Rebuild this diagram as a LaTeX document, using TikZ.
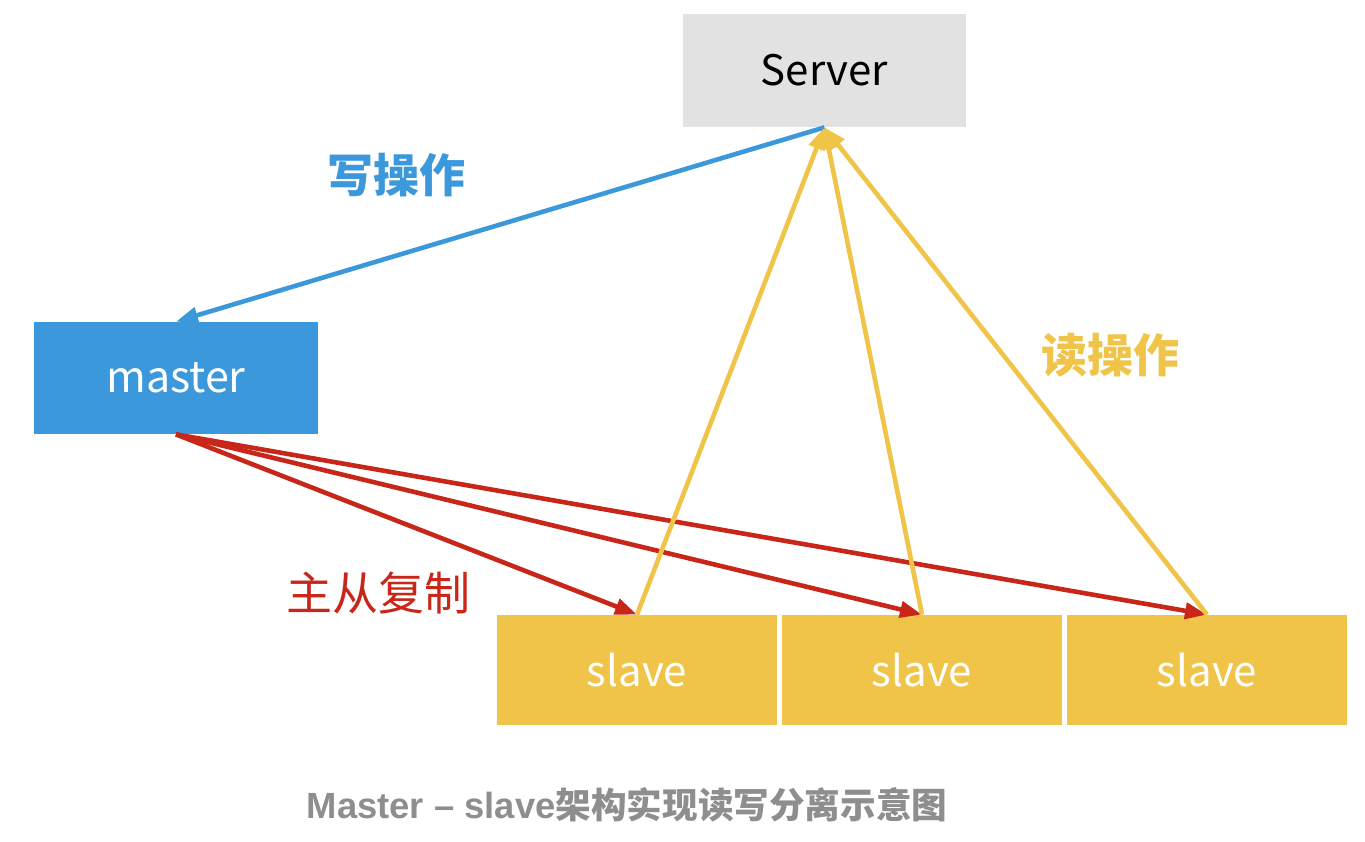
\documentclass[tikz,border=0pt]{standalone}
\usepackage{fontspec}
\setmainfont{Noto Sans CJK SC}
\newfontfamily\cjk{Noto Sans CJK SC}
\newfontfamily\latcap{Liberation Sans}
\usetikzlibrary{arrows.meta}
\definecolor{srvgray}{HTML}{E2E2E2}
\definecolor{mblue}{HTML}{3A98DB}
\definecolor{syellow}{HTML}{EFC448}
\definecolor{rred}{HTML}{C9261A}
\definecolor{capgray}{HTML}{8E8E8E}
\begin{document}
\begin{tikzpicture}[x=0.5pt,y=-0.5pt,
  box/.style={rectangle, inner sep=0pt, draw=none},
  srvbox/.style={box, fill=srvgray, minimum width=141.5pt, minimum height=56.5pt, text=black, font=\fontsize{21}{26}\selectfont},
  mbox/.style={box, fill=mblue, minimum width=142pt, minimum height=56pt, text=white, font=\fontsize{21.5}{26}\selectfont},
  sbox/.style={box, fill=syellow, minimum width=140pt, minimum height=55pt, text=white, font=\fontsize{21}{26}\selectfont},
  conn/.style={line width=2.3pt, -{Triangle[length=11pt,width=8pt]}},
  lbl/.style={inner sep=0pt, font=\fontsize{23}{26}\selectfont}
]
\useasboundingbox (0,0) rectangle (1365,841);
\node[srvbox] (server) at (824.5,70.5) {Server};
\node[mbox] (master) at (176,378) {master};
\node[sbox] (s1) at (637,670) {slave};
\node[sbox] (s2) at (922,670) {slave};
\node[sbox] (s3) at (1207,670) {slave};

\draw[conn, mblue] (server.south) -- (master.north);
\draw[conn, rred] (master.south) -- (s1.north);
\draw[conn, rred] (master.south) -- (s2.north);
\draw[conn, rred] (master.south) -- (s3.north);
\draw[conn, syellow] (s1.north) -- (server.south);
\draw[conn, syellow] (s2.north) -- (server.south);
\draw[conn, syellow] (s3.north) -- (server.south);

\node[lbl, text=mblue, font=\fontsize{23}{26}\selectfont\bfseries] (wlbl) at (396,175) {写操作};
\node[lbl, text=syellow, font=\fontsize{23}{26}\selectfont\bfseries] (rlbl) at (1110,355) {读操作};
\node[lbl, text=rred] (replbl) at (378,593) {主从复制};
\node[inner sep=0pt, text=capgray] (cap) at (627,805) {{\latcap\bfseries\fontsize{18.2}{20}\selectfont Master – slave}{\cjk\bfseries\fontsize{17.8}{20}\selectfont 架构实现读写分离示意图}};
\end{tikzpicture}
\end{document}
